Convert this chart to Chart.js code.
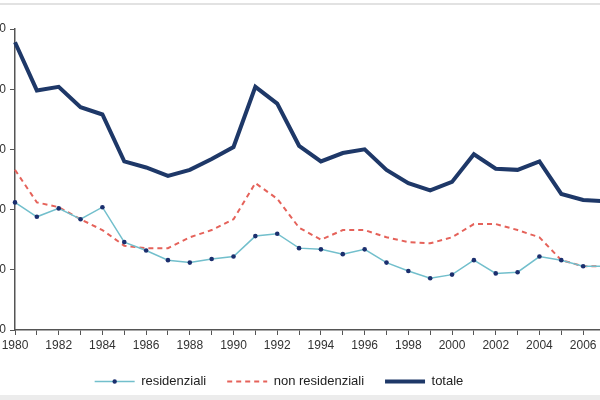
<!DOCTYPE html>
<html><head><meta charset="utf-8">
<script src="https://cdn.jsdelivr.net/npm/chart.js@4"></script>
<style>
html,body{margin:0;padding:0;width:600px;height:400px;overflow:hidden;background:#fff;}
#wrap{position:absolute;left:-51px;top:0;width:660px;height:400px;}
#topline{position:absolute;left:0;top:3px;width:600px;height:2px;background:#e2e2e2;z-index:2;}
#bottomband{position:absolute;left:0;top:395px;width:600px;height:5px;background:#ececec;z-index:2;}
</style></head><body>
<div id="topline"></div>
<div id="wrap"><canvas id="c"></canvas></div>
<div id="bottomband"></div>
<script>
const years = [1980,1981,1982,1983,1984,1985,1986,1987,1988,1989,1990,1991,1992,1993,1994,1995,1996,1997,1998,1999,2000,2001,2002,2003,2004,2005,2006,2007];
const residenziali = [106,94,101,92,102,73,66,58,56,59,61,78,80,68,67,63,67,56,49,43,46,58,47,48,61,58,53,53];
const nonResidenziali = [133,106,102,92,83,70,68,68,77,83,92,122,109,85,75,83,83,77,73,72,77,88,88,83,77,58,53,53];
const totale = [239,199,202,185,179,140,135,128,133,142,152,202,188,153,140,147,150,133,122,116,123,146,134,133,140,113,108,107];
const yTicks = [0,50,100,150,200,250];
const seriesNames = ['residenziali','non residenziali','totale'];

const FONT = '"Liberation Sans", Arial, sans-serif';

const legendDot = {
  id: 'legendDot',
  afterDraw(chart) {
    const lg = chart.legend;
    if (!lg || !lg.legendHitBoxes || !lg.legendHitBoxes.length) return;
    const b = lg.legendHitBoxes[0];
    const ctx = chart.ctx;
    ctx.save();
    ctx.fillStyle = '#1b2f6e';
    ctx.beginPath();
    ctx.arc(b.left + 20, b.top + b.height / 2, 2.2, 0, Math.PI * 2);
    ctx.fill();
    ctx.restore();
  }
};

new Chart(document.getElementById('c'), {
  type: 'line',
  data: {
    labels: years,
    datasets: [
      {
        label: seriesNames[0],
        data: residenziali,
        borderColor: '#72bfcc',
        backgroundColor: '#1b2f6e',
        borderWidth: 1.5,
        pointRadius: 2.3,
        pointBorderWidth: 0,
        pointBackgroundColor: '#1b2f6e',
        tension: 0
      },
      {
        label: seriesNames[1],
        data: nonResidenziali,
        borderColor: '#e5625a',
        backgroundColor: '#e5625a',
        borderWidth: 2,
        borderDash: [5, 4],
        pointRadius: 0,
        tension: 0
      },
      {
        label: seriesNames[2],
        data: totale,
        borderColor: '#1e3868',
        backgroundColor: '#1e3868',
        borderWidth: 4,
        pointRadius: 0,
        tension: 0
      }
    ]
  },
  options: {
    responsive: true,
    maintainAspectRatio: false,
    animation: false,
    events: [],
    layout: { padding: { top: 29, right: 0, left: 0, bottom: 2 } },
    plugins: {
      tooltip: { enabled: false },
      legend: {
        position: 'bottom',
        align: 'center',
        labels: {
          usePointStyle: true,
          pointStyle: 'line',
          pointStyleWidth: 40,
          boxWidth: 40,
          boxHeight: 13,
          padding: 21,
          color: '#222',
          font: { family: FONT, size: 13 },
          generateLabels(chart) {
            return chart.data.datasets.map((ds, i) => ({
              text: ds.label,
              fillStyle: ds.borderColor,
              strokeStyle: ds.borderColor,
              lineWidth: i === 0 ? 1.5 : (i === 1 ? 2 : 4),
              lineDash: ds.borderDash || [],
              pointStyle: 'line',
              hidden: false,
              datasetIndex: i,
              fontColor: '#222'
            }));
          }
        }
      }
    },
    scales: {
      x: {
        type: 'category',
        offset: false,
        afterFit(s) { s.height = 24; },
        grid: { display: true, drawOnChartArea: false, drawTicks: true, tickLength: 5, color: '#555', lineWidth: 1 },
        border: { display: true, color: '#555', width: 1.5 },
        ticks: {
          autoSkip: false,
          maxRotation: 0,
          padding: 3,
          color: '#333',
          font: { family: FONT, size: 12 },
          callback(v, i) { const y = years[i]; return y % 2 === 0 ? String(y) : ''; }
        }
      },
      y: {
        min: yTicks[0],
        max: yTicks[yTicks.length - 1],
        afterFit(s) { s.width = 66; },
        afterBuildTicks(s) { s.ticks = yTicks.map(v => ({ value: v })); },
        grid: { display: true, drawOnChartArea: false, drawTicks: true, tickLength: 5, color: '#555', lineWidth: 1 },
        border: { display: true, color: '#555', width: 1.5 },
        ticks: {
          padding: 4,
          color: '#333',
          font: { family: FONT, size: 12 }
        }
      }
    }
  },
  plugins: [legendDot]
});
</script>
</body></html>
